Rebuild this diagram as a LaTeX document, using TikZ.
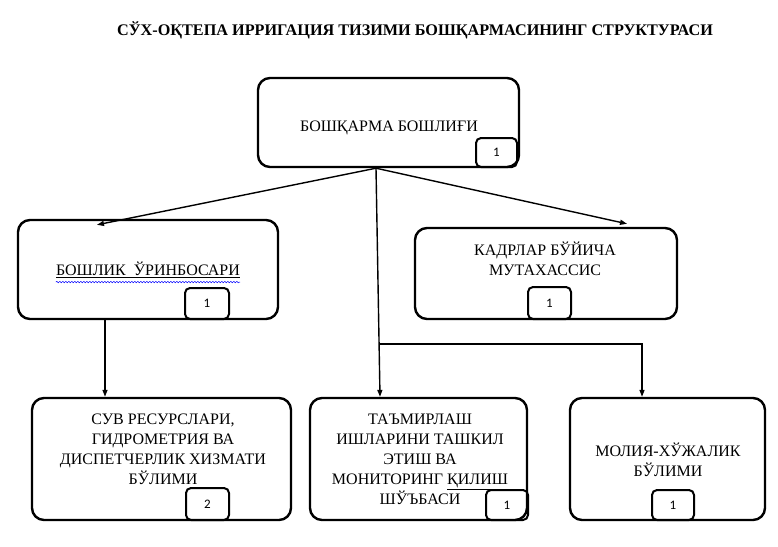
\documentclass[tikz,border=0pt]{standalone}
\usepackage{fontspec}
\setmainfont{Liberation Serif}
\newfontfamily\unitfont{Liberation Serif}
\newfontfamily\countfont{Carlito}
\usetikzlibrary{arrows.meta}
\usetikzlibrary{decorations.pathmorphing}

\tikzset{
  unitbox/.style={draw, rounded corners=12pt, line width=2.4pt, inner sep=0pt},
  countbox/.style={draw, rounded corners=5pt, line width=2pt, inner sep=0pt,
    minimum width=42pt, minimum height=30pt, font=\countfont\fontsize{13}{15}\selectfont},
  unittext/.style={align=center, inner sep=0pt, font=\unitfont\fontsize{16}{20}\selectfont},
  link/.style={line width=1.4pt, -{Triangle[length=7pt,width=5pt]}}
}

\begin{document}
\begin{tikzpicture}[x=1pt, y=-1pt]
\useasboundingbox (0,0) rectangle (778,546);
%
\node[font=\unitfont\bfseries\fontsize{16.2}{18}\selectfont] (title) at (415,30)
  {СЎХ-ОҚТЕПА ИРРИГАЦИЯ ТИЗИМИ БОШҚАРМАСИНИНГ СТРУКТУРАСИ};
%
\node[unitbox, minimum width=261pt, minimum height=89pt]  (head)    at (388.5,122.5) {};
\node[unitbox, minimum width=260pt, minimum height=99pt]  (deputy)  at (148,269.5) {};
\node[unitbox, minimum width=262pt, minimum height=91pt]  (hr)      at (546,273.5) {};
\node[unitbox, minimum width=259pt, minimum height=122pt] (water)   at (161.5,459) {};
\node[unitbox, minimum width=217pt, minimum height=122pt] (repair)  at (418.5,459) {};
\node[unitbox, minimum width=195pt, minimum height=122pt] (finance) at (667.5,459) {};
%
\node[unittext] (headtxt)    at (389,128) {БОШҚАРМА БОШЛИҒИ};
\node[unittext] (deputytxt)  at (148,270) {\underline{БОШЛИК\ \ ЎРИНБОСАРИ}};
\node[unittext] (hrtxt)      at (545,259) {КАДРЛАР БЎЙИЧА\\МУТАХАССИС};
\node[unittext] (watertxt)   at (163,449) {СУВ РЕСУРСЛАРИ,\\ГИДРОМЕТРИЯ ВА\\ДИСПЕТЧЕРЛИК ХИЗМАТИ\\БЎЛИМИ};
\node[unittext] (repairtxt)  at (420,459) {ТАЪМИРЛАШ\\ИШЛАРИНИ ТАШКИЛ\\ЭТИШ ВА\\МОНИТОРИНГ \underline{ҚИЛИШ}\\ШЎЪБАСИ};
\node[unittext] (financetxt) at (668,460) {МОЛИЯ-ХЎЖАЛИК\\БЎЛИМИ};
%
\draw[blue, line width=0.5pt, decorate, decoration={snake, amplitude=0.7pt, segment length=3pt}]
  ([yshift=-4]deputytxt.south west) -- ([yshift=-4]deputytxt.south east);
%
\node[countbox, minimum width=41pt, minimum height=29pt] (headnum)    at (496.5,152.5) {1};
\node[countbox, minimum width=44pt, minimum height=31pt] (deputynum)  at (207,303.5) {1};
\node[countbox, minimum width=43pt, minimum height=32pt] (hrnum)      at (549.5,303) {1};
\node[countbox, minimum width=43pt, minimum height=32pt] (waternum)   at (207.5,504) {2};
\node[countbox]                                          (repairnum)  at (507,505) {1};
\node[countbox]                                          (financenum) at (673,505) {1};
%
\coordinate (hub) at ([xshift=-12.5]head.south);
\coordinate (split) at (380,344);
\draw[link] (hub) -- ([shift={(-51,6)}]deputy.north);
\draw[link] (hub) -- ([shift={(81,-3)}]hr.north);
\draw[link] (hub) -- ([xshift=-38.5]repair.north);
\draw[link] (split) -| ([xshift=-25.5]finance.north);
\draw[link] ([xshift=-43]deputy.south) -- ([xshift=-56.5]water.north);
\end{tikzpicture}
\end{document}
